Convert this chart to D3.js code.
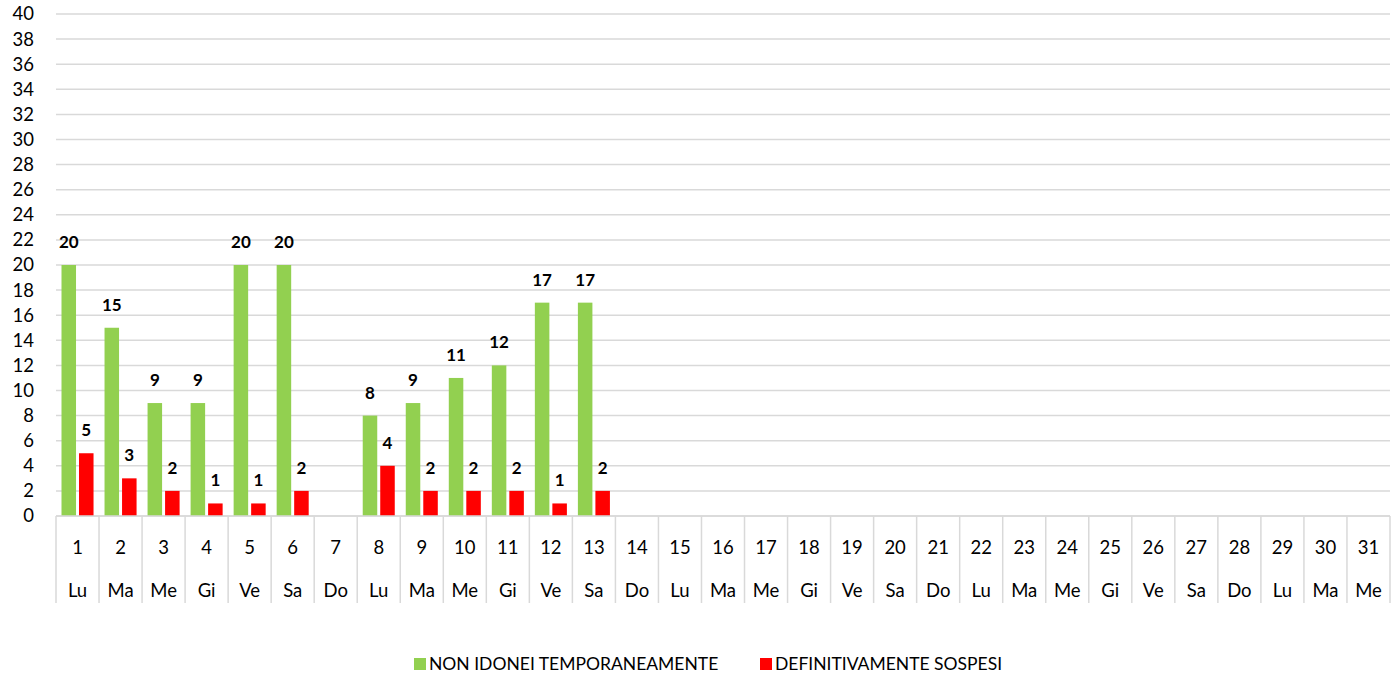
<!DOCTYPE html>
<html>
<head>
<meta charset="utf-8">
<script src="https://cdn.jsdelivr.net/npm/d3@7"></script>
<style>
  body { margin: 0; background: #fff; }
  svg { display: block; font-family: Lato, "Open Sans", sans-serif; }
  .tick text { fill: #000; }
</style>
</head>
<body>
<div id="chart"></div>
<script>
// giorni del mese e nomi abbreviati
const days = d3.range(1, 32);
const dayNames = ["Lu", "Ma", "Me", "Gi", "Ve", "Sa", "Do", "Lu", "Ma", "Me", "Gi", "Ve", "Sa", "Do",
  "Lu", "Ma", "Me", "Gi", "Ve", "Sa", "Do", "Lu", "Ma", "Me", "Gi", "Ve", "Sa", "Do", "Lu", "Ma", "Me"];
// valori (null = nessun dato)
const nonIdonei = [20, 15, 9, 9, 20, 20, null, 8, 9, 11, 12, 17, 17];
const sospesi   = [5, 3, 2, 1, 1, 2, null, 4, 2, 2, 2, 1, 2];
const seriesNames = ["NON IDONEI TEMPORANEAMENTE", "DEFINITIVAMENTE SOSPESI"];
const seriesColors = ["#92D050", "#FF0000"];
const yTicks = d3.range(0, 41, 2);

const W = 1392, H = 678;
const mLeft = 56, mRight = 1390, mTop = 14, mBottom = 516;

const svg = d3.select("#chart").append("svg").attr("width", W).attr("height", H);

const x = d3.scaleBand().domain(days).range([mLeft, mRight]).paddingInner(0).paddingOuter(0);
const xs = d3.scaleBand().domain([0, 1]).range([0, x.bandwidth()]).paddingInner(0.171).paddingOuter(0.314);
const y = d3.scaleLinear().domain([0, 40]).range([mBottom, mTop]);

// griglia
svg.append("g").selectAll("line").data(yTicks).join("line")
  .attr("x1", mLeft).attr("x2", mRight)
  .attr("y1", d => y(d)).attr("y2", d => y(d))
  .attr("stroke", "#D9D9D9").attr("stroke-width", 1.5);

// asse y
const yAxis = svg.append("g").attr("transform", `translate(${mLeft},0)`)
  .call(d3.axisLeft(y).tickValues(yTicks).tickSize(0).tickPadding(22));
yAxis.select(".domain").remove();
yAxis.selectAll("text").attr("font-size", 18.5).attr("font-family", "Lato, sans-serif");

// barre
const rows = days.map((d, i) => ({ day: d, v: [nonIdonei[i], sospesi[i]] }));
const grp = svg.append("g").selectAll("g").data(rows).join("g")
  .attr("transform", d => `translate(${x(d.day)},0)`);

grp.selectAll("rect").data(d => d.v.map((v, k) => ({ v, k })).filter(e => e.v != null)).join("rect")
  .attr("x", e => xs(e.k)).attr("width", xs.bandwidth())
  .attr("y", e => y(e.v)).attr("height", e => y(0) - y(e.v))
  .attr("fill", e => seriesColors[e.k]);

grp.selectAll("text").data(d => d.v.map((v, k) => ({ v, k })).filter(e => e.v != null)).join("text")
  .attr("x", e => xs(e.k) + xs.bandwidth() / 2)
  .attr("y", e => y(e.v) - 17)
  .attr("text-anchor", "middle")
  .attr("font-size", 17).attr("font-weight", "bold")
  .text(e => e.v);

// asse x a celle
const axisBottom = 603;
svg.append("line").attr("x1", mLeft).attr("x2", mRight).attr("y1", mBottom).attr("y2", mBottom)
  .attr("stroke", "#D9D9D9").attr("stroke-width", 1.5);
svg.append("g").selectAll("line").data(days.concat([null])).join("line")
  .attr("x1", (d, i) => mLeft + i * x.step()).attr("x2", (d, i) => mLeft + i * x.step())
  .attr("y1", mBottom).attr("y2", axisBottom)
  .attr("stroke", "#D9D9D9").attr("stroke-width", 1.5);

const xl = svg.append("g").selectAll("g").data(days).join("g")
  .attr("transform", d => `translate(${x(d) + x.bandwidth() / 2},0)`);
xl.append("text").attr("y", 554).attr("text-anchor", "middle").attr("font-size", 18.5).text(d => d);
xl.append("text").attr("y", 597).attr("text-anchor", "middle").attr("font-size", 18.5).text((d, i) => dayNames[i]);

// legenda
const legendX = [414, 760];
const lg = svg.append("g").selectAll("g").data(seriesNames).join("g")
  .attr("transform", (d, i) => `translate(${legendX[i]},658)`);
lg.append("rect").attr("width", 12).attr("height", 12).attr("fill", (d, i) => seriesColors[i]);
lg.append("text").attr("x", 15).attr("y", 12).attr("font-size", 17.5).text(d => d);
</script>
</body>
</html>
